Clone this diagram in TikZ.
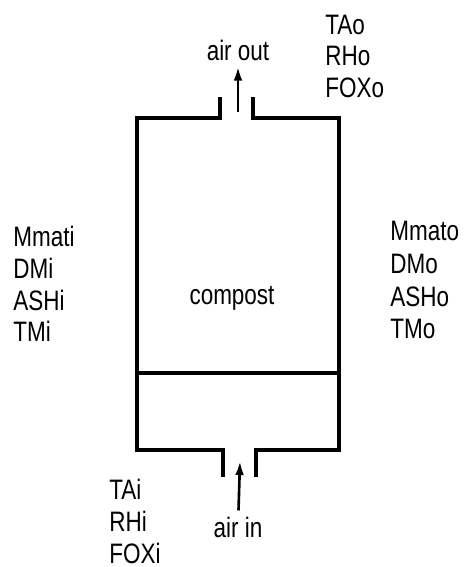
\documentclass[tikz,border=0pt]{standalone}
\usepackage{fontspec}
\setmainfont{Liberation Sans}
\usepackage{tikz}
\usetikzlibrary{arrows.meta,positioning}
\newcommand\nar[1]{\scalebox{0.8}[1]{#1}}

\begin{document}
\begin{tikzpicture}[x=0.02cm,y=-0.02cm,font=\fontsize{16}{19}\selectfont,
  wall/.style={line width=1.8pt},
  flow/.style={line width=1.5pt,-{Latex[length=8pt,width=5pt]}},
  lbl/.style={anchor=west,inner sep=0pt}]
\useasboundingbox (0,0) rectangle (464,567);

% vessel
\draw[wall] (220,97) -- (220,118) -- (137,118) -- (137,450) -- (223,450) -- (223,477);
\draw[wall] (253,97) -- (253,118) -- (339,118) -- (339,450) -- (256,450) -- (256,477);
\draw[wall] (137,373) -- (339,373);
\node (compost) at (232,298) {\nar{compost}};

% air
\node (airout) at (238,50) {\nar{air out}};
\coordinate (outtail) at (238,112);
\draw[flow] (outtail) -- (airout);
\node (airin) at (238,527) {\nar{air in}};
\draw[flow] (airin) -- (240,461);

% outlet gas
\node[lbl] (tao) at (325,25) {\nar{TAo}};
\node[lbl] (rho) at (325,56) {\nar{RHo}};
\node[lbl] (foxo) at (325,88) {\nar{FOXo}};

% inlet gas
\node[lbl] (tai) at (109,489) {\nar{TAi}};
\node[lbl] (rhi) at (109,521) {\nar{RHi}};
\node[lbl] (foxi) at (109,553) {\nar{FOXi}};

% material in
\node[lbl] (mmati) at (13,236) {\nar{Mmati}};
\node[lbl] (dmi) at (13,268) {\nar{DMi}};
\node[lbl] (ashi) at (13,300) {\nar{ASHi}};
\node[lbl] (tmi) at (13,331) {\nar{TMi}};

% material out
\node[lbl] (mmato) at (390,231) {\nar{Mmato}};
\node[lbl] (dmo) at (390,264) {\nar{DMo}};
\node[lbl] (asho) at (390,297) {\nar{ASHo}};
\node[lbl] (tmo) at (390,329) {\nar{TMo}};
\end{tikzpicture}
\end{document}
